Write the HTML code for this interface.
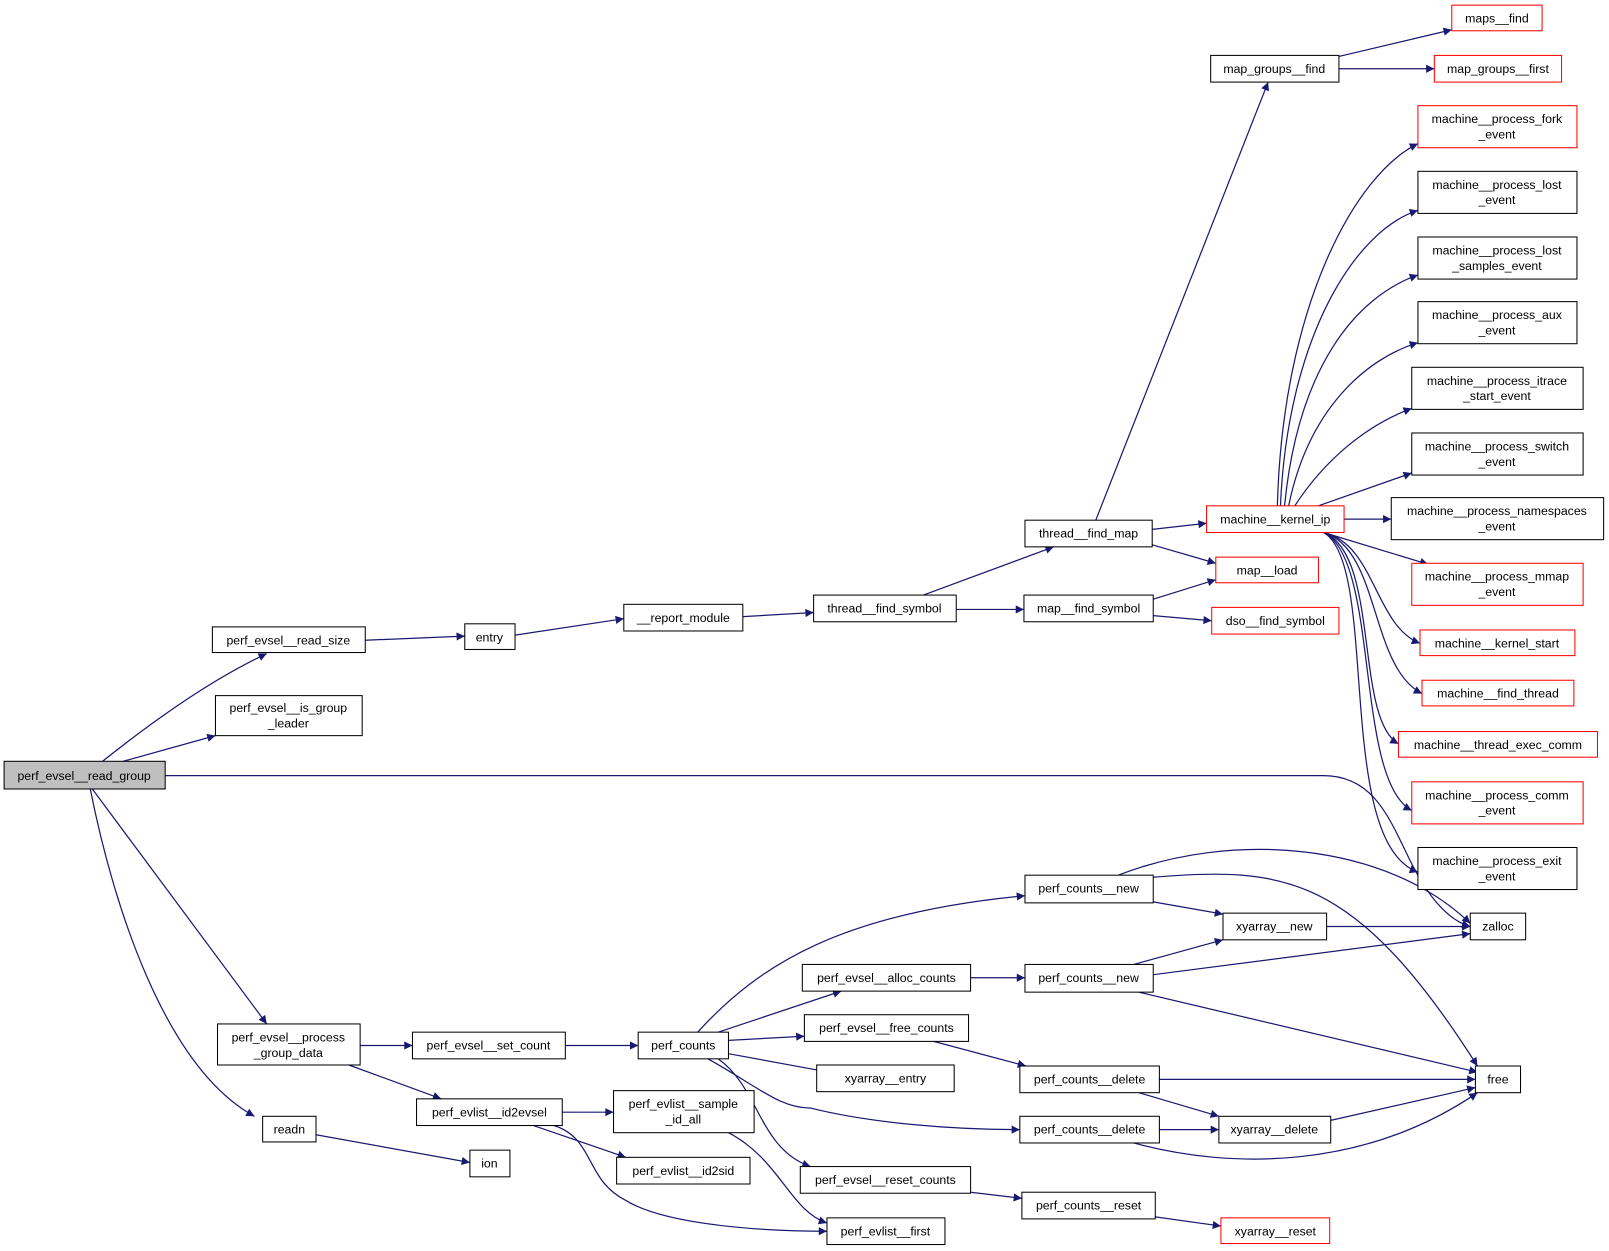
<!DOCTYPE html>
<html><head><meta charset="utf-8"><style>
html,body{margin:0;padding:0;background:#fff;}
svg{display:block;}
text{font-family:"Liberation Sans",sans-serif;font-size:12px;fill:#000;text-anchor:middle;}
.n{fill:#fff;stroke:#000;stroke-width:1;}
.r{fill:#fff;stroke:#ff0000;stroke-width:1;}
.g{fill:#bfbfbf;stroke:#000;stroke-width:1;}
.e{fill:none;stroke:#191970;stroke-width:1.2;marker-end:url(#a);}
</style></head><body>
<svg width="1609" height="1251" viewBox="0 0 1609 1251" xmlns="http://www.w3.org/2000/svg">
<defs><marker id="a" viewBox="0 0 10 10" refX="10" refY="5" markerWidth="11" markerHeight="8" markerUnits="userSpaceOnUse" orient="auto"><path d="M0,0 L10,5 L0,10 z" fill="#191970"/></marker></defs>
<g transform="scale(1.026)">
<g>
<path class="e" d="M100,742 C140,710 200,665 260,637"/>
<path class="e" d="M120,742 L210,717"/>
<path class="e" d="M161,756 L1290,756 C1340,756 1355,800 1375,840 C1395,880 1415,898 1433,903"/>
<path class="e" d="M90,769 L260,998"/>
<path class="e" d="M88,769 C110,880 160,1040 248,1088"/>
<path class="e" d="M356,624 L453,620"/>
<path class="e" d="M502,619 L608,603"/>
<path class="e" d="M724,601 L793,597"/>
<path class="e" d="M900,580 L1027,533"/>
<path class="e" d="M932,594 L998,594"/>
<path class="e" d="M1068,507 L1236,80"/>
<path class="e" d="M1123,516 L1176,510"/>
<path class="e" d="M1123,531 L1185,549"/>
<path class="e" d="M1124,584 L1185,565"/>
<path class="e" d="M1124,600 L1181,605"/>
<path class="e" d="M1305,55 L1415,29"/>
<path class="e" d="M1305,67 L1398,67"/>
<path class="e" d="M1245,493 C1250,300 1320,170 1382,140"/>
<path class="e" d="M1248,493 C1255,330 1320,225 1382,205"/>
<path class="e" d="M1252,493 C1265,360 1320,290 1382,268"/>
<path class="e" d="M1256,493 C1275,400 1330,350 1382,334"/>
<path class="e" d="M1262,493 C1290,450 1330,415 1376,398"/>
<path class="e" d="M1285,493 L1376,461"/>
<path class="e" d="M1310,506 L1356,506"/>
<path class="e" d="M1290,519 L1392,550"/>
<path class="e" d="M1290,519 C1340,530 1340,610 1384,627"/>
<path class="e" d="M1290,519 C1345,535 1335,650 1386,676"/>
<path class="e" d="M1290,519 C1345,540 1320,700 1363,725"/>
<path class="e" d="M1290,519 C1345,545 1320,760 1376,790"/>
<path class="e" d="M1290,519 C1345,550 1300,820 1382,850"/>
<path class="e" d="M1090,853 C1200,810 1350,820 1433,900"/>
<path class="e" d="M1124,855 C1250,845 1320,850 1440,1039"/>
<path class="e" d="M1124,879 L1192,891"/>
<path class="e" d="M1293,903 L1433,903"/>
<path class="e" d="M1105,940 L1192,916"/>
<path class="e" d="M1124,950 L1433,910"/>
<path class="e" d="M1110,967 L1440,1045"/>
<path class="e" d="M946,953 L999,953"/>
<path class="e" d="M351,1019 L402,1019"/>
<path class="e" d="M340,1038 L430,1071"/>
<path class="e" d="M551,1019 L622,1019"/>
<path class="e" d="M680,1006 C740,940 820,890 999,873"/>
<path class="e" d="M700,1006 L820,966"/>
<path class="e" d="M710,1014 L784,1010"/>
<path class="e" d="M710,1027 L808,1045"/>
<path class="e" d="M690,1032 C740,1060 760,1080 790,1080 C850,1095 930,1101 994,1101"/>
<path class="e" d="M700,1032 C740,1060 740,1120 790,1137"/>
<path class="e" d="M910,1015 L1000,1039"/>
<path class="e" d="M1130,1052 L1438,1052"/>
<path class="e" d="M1110,1065 L1188,1088"/>
<path class="e" d="M1130,1101 L1188,1101"/>
<path class="e" d="M1105,1114 C1200,1140 1330,1140 1440,1065"/>
<path class="e" d="M1297,1092 L1438,1060"/>
<path class="e" d="M946,1162 L996,1168"/>
<path class="e" d="M1126,1186 L1190,1195"/>
<path class="e" d="M308,1106 L458,1133"/>
<path class="e" d="M548,1084 L598,1084"/>
<path class="e" d="M520,1097 L610,1128"/>
<path class="e" d="M540,1097 C580,1110 570,1150 610,1170 C650,1195 750,1200 806,1200"/>
<path class="e" d="M710,1104 C760,1130 770,1180 806,1192"/>
</g>
<g>
<rect class="g" x="4" y="742" width="157" height="27"/><text x="82" y="760">perf_evsel__read_group</text>
<rect class="n" x="207" y="611" width="149" height="25"/><text x="281" y="628">perf_evsel__read_size</text>
<rect class="n" x="210" y="678" width="143" height="39"/><text x="281" y="694">perf_evsel__is_group</text><text x="281" y="709">_leader</text>
<rect class="n" x="212" y="998" width="139" height="40"/><text x="281" y="1015">perf_evsel__process</text><text x="281" y="1030">_group_data</text>
<rect class="n" x="256" y="1088" width="52" height="25"/><text x="282" y="1105">readn</text>
<rect class="n" x="453" y="608" width="49" height="25"/><text x="477" y="625">entry</text>
<rect class="n" x="608" y="589" width="116" height="26"/><text x="666" y="606">__report_module</text>
<rect class="n" x="793" y="580" width="139" height="26"/><text x="862" y="597">thread__find_symbol</text>
<rect class="n" x="999" y="507" width="124" height="26"/><text x="1061" y="524">thread__find_map</text>
<rect class="n" x="998" y="580" width="126" height="26"/><text x="1061" y="597">map__find_symbol</text>
<rect class="n" x="1180" y="54" width="125" height="26"/><text x="1242" y="71">map_groups__find</text>
<rect class="r" x="1415" y="5" width="88" height="25"/><text x="1459" y="22">maps__find</text>
<rect class="r" x="1398" y="54" width="124" height="26"/><text x="1460" y="71">map_groups__first</text>
<rect class="r" x="1176" y="493" width="134" height="26"/><text x="1243" y="510">machine__kernel_ip</text>
<rect class="r" x="1185" y="543" width="100" height="25"/><text x="1235" y="560">map__load</text>
<rect class="r" x="1181" y="592" width="124" height="26"/><text x="1243" y="609">dso__find_symbol</text>
<rect class="r" x="1382" y="103" width="155" height="41"/><text x="1459" y="120">machine__process_fork</text><text x="1459" y="135">_event</text>
<rect class="n" x="1382" y="167" width="155" height="41"/><text x="1459" y="184">machine__process_lost</text><text x="1459" y="199">_event</text>
<rect class="n" x="1382" y="231" width="155" height="41"/><text x="1459" y="248">machine__process_lost</text><text x="1459" y="263">_samples_event</text>
<rect class="n" x="1382" y="294" width="155" height="41"/><text x="1459" y="311">machine__process_aux</text><text x="1459" y="326">_event</text>
<rect class="n" x="1376" y="358" width="167" height="41"/><text x="1459" y="375">machine__process_itrace</text><text x="1459" y="390">_start_event</text>
<rect class="n" x="1376" y="422" width="167" height="41"/><text x="1459" y="439">machine__process_switch</text><text x="1459" y="454">_event</text>
<rect class="n" x="1356" y="485" width="207" height="41"/><text x="1459" y="502">machine__process_namespaces</text><text x="1459" y="517">_event</text>
<rect class="r" x="1376" y="549" width="167" height="41"/><text x="1459" y="566">machine__process_mmap</text><text x="1459" y="581">_event</text>
<rect class="r" x="1384" y="614" width="151" height="25"/><text x="1459" y="631">machine__kernel_start</text>
<rect class="r" x="1386" y="663" width="148" height="25"/><text x="1460" y="680">machine__find_thread</text>
<rect class="r" x="1363" y="713" width="194" height="25"/><text x="1460" y="730">machine__thread_exec_comm</text>
<rect class="r" x="1376" y="762" width="167" height="41"/><text x="1459" y="779">machine__process_comm</text><text x="1459" y="794">_event</text>
<rect class="n" x="1382" y="826" width="155" height="41"/><text x="1459" y="843">machine__process_exit</text><text x="1459" y="858">_event</text>
<rect class="n" x="1433" y="890" width="54" height="26"/><text x="1460" y="907">zalloc</text>
<rect class="n" x="1438" y="1039" width="44" height="26"/><text x="1460" y="1056">free</text>
<rect class="n" x="999" y="853" width="125" height="27"/><text x="1061" y="870">perf_counts__new</text>
<rect class="n" x="1192" y="890" width="101" height="26"/><text x="1242" y="907">xyarray__new</text>
<rect class="n" x="782" y="940" width="164" height="26"/><text x="864" y="957">perf_evsel__alloc_counts</text>
<rect class="n" x="999" y="940" width="125" height="27"/><text x="1061" y="957">perf_counts__new</text>
<rect class="n" x="784" y="989" width="160" height="26"/><text x="864" y="1006">perf_evsel__free_counts</text>
<rect class="n" x="402" y="1006" width="149" height="26"/><text x="476" y="1023">perf_evsel__set_count</text>
<rect class="n" x="622" y="1006" width="88" height="26"/><text x="666" y="1023">perf_counts</text>
<rect class="n" x="796" y="1038" width="134" height="26"/><text x="863" y="1055">xyarray__entry</text>
<rect class="n" x="994" y="1039" width="136" height="26"/><text x="1062" y="1056">perf_counts__delete</text>
<rect class="n" x="994" y="1088" width="136" height="26"/><text x="1062" y="1105">perf_counts__delete</text>
<rect class="n" x="1188" y="1088" width="109" height="26"/><text x="1242" y="1105">xyarray__delete</text>
<rect class="n" x="780" y="1137" width="166" height="26"/><text x="863" y="1154">perf_evsel__reset_counts</text>
<rect class="n" x="996" y="1162" width="130" height="26"/><text x="1061" y="1179">perf_counts__reset</text>
<rect class="r" x="1190" y="1187" width="106" height="25"/><text x="1243" y="1204">xyarray__reset</text>
<rect class="n" x="406" y="1071" width="142" height="26"/><text x="477" y="1088">perf_evlist__id2evsel</text>
<rect class="n" x="598" y="1063" width="137" height="41"/><text x="666" y="1080">perf_evlist__sample</text><text x="666" y="1095">_id_all</text>
<rect class="n" x="601" y="1128" width="130" height="26"/><text x="666" y="1145">perf_evlist__id2sid</text>
<rect class="n" x="806" y="1187" width="115" height="26"/><text x="863" y="1204">perf_evlist__first</text>
<rect class="n" x="458" y="1121" width="39" height="26"/><text x="477" y="1138">ion</text>
</g>
</g>
</svg>
</body></html>
